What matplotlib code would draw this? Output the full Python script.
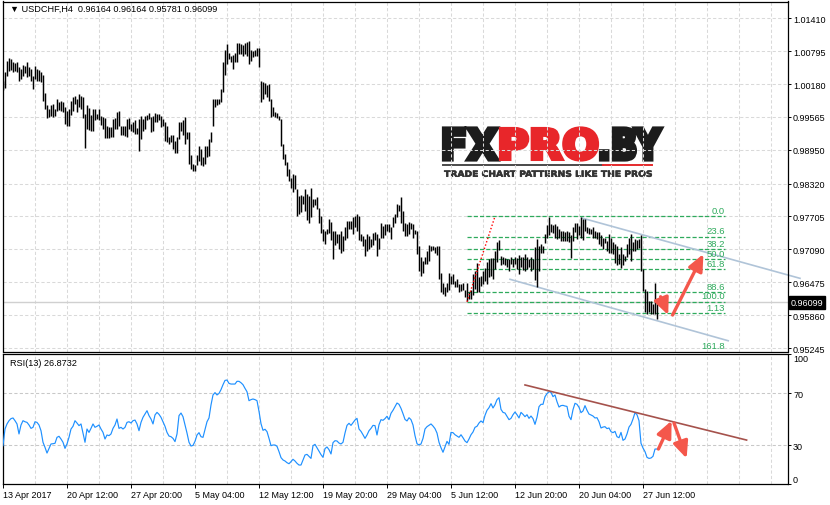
""" USDCHF H4 chart with RSI(13) """
import numpy as np
import matplotlib.pyplot as plt
from matplotlib.textpath import TextPath
from matplotlib.patches import PathPatch
from matplotlib.font_manager import FontProperties
from matplotlib.colors import to_rgb
from matplotlib.transforms import Affine2D, blended_transform_factory

plt.rcParams['lines.scale_dashes'] = False
plt.rcParams['font.family'] = ['Liberation Sans', 'DejaVu Sans']

# H4 bars, 13 Apr 2017 ... 28 Jun 2017 (high / low)
bar_high = [
    1.0024, 1.0040, 1.0062, 1.0066, 1.0064, 1.0059, 1.0057, 1.0059, 1.0049, 1.0047,
    1.0054, 1.0051, 1.0059, 1.0049, 1.0047, 1.0034, 1.0051, 1.0046, 1.0045, 1.0041,
    1.0035, 1.0001, 0.9978, 0.9971, 0.9978, 0.9981, 0.9971, 0.9991, 0.9985, 0.9987,
    0.9985, 0.9975, 0.9968, 0.9971, 0.9987, 0.9993, 0.9995, 0.9991, 0.9999, 0.9996,
    0.9993, 0.9962, 0.9979, 0.9973, 0.9960, 0.9971, 0.9971, 0.9962, 0.9971, 0.9958,
    0.9956, 0.9954, 0.9939, 0.9937, 0.9937, 0.9953, 0.9954, 0.9965, 0.9968, 0.9940,
    0.9940, 0.9940, 0.9953, 0.9954, 0.9943, 0.9947, 0.9950, 0.9935, 0.9953, 0.9958,
    0.9953, 0.9959, 0.9960, 0.9964, 0.9956, 0.9958, 0.9964, 0.9962, 0.9962, 0.9959,
    0.9953, 0.9947, 0.9940, 0.9919, 0.9923, 0.9922, 0.9912, 0.9919, 0.9947, 0.9948,
    0.9950, 0.9956, 0.9928, 0.9928, 0.9885, 0.9869, 0.9867, 0.9885, 0.9903, 0.9897,
    0.9881, 0.9903, 0.9902, 0.9915, 0.9929, 0.9990, 0.9990, 0.9990, 0.9990, 1.0008,
    1.0059, 1.0082, 1.0093, 1.0076, 1.0070, 1.0072, 1.0076, 1.0095, 1.0094, 1.0093,
    1.0091, 1.0095, 1.0097, 1.0099, 1.0082, 1.0079, 1.0082, 1.0085, 1.0085, 1.0024,
    1.0021, 1.0020, 1.0016, 1.0018, 0.9991, 0.9975, 0.9966, 0.9964, 0.9959, 0.9953,
    0.9906, 0.9887, 0.9873, 0.9859, 0.9842, 0.9850, 0.9848, 0.9822, 0.9809, 0.9811,
    0.9809, 0.9822, 0.9812, 0.9809, 0.9823, 0.9803, 0.9803, 0.9806, 0.9786, 0.9772,
    0.9747, 0.9744, 0.9747, 0.9765, 0.9761, 0.9744, 0.9744, 0.9738, 0.9738, 0.9744,
    0.9734, 0.9750, 0.9762, 0.9762, 0.9762, 0.9769, 0.9772, 0.9775, 0.9772, 0.9738,
    0.9734, 0.9728, 0.9738, 0.9734, 0.9728, 0.9739, 0.9741, 0.9738, 0.9731, 0.9759,
    0.9753, 0.9757, 0.9757, 0.9756, 0.9750, 0.9769, 0.9775, 0.9794, 0.9791, 0.9806,
    0.9781, 0.9759, 0.9756, 0.9761, 0.9759, 0.9756, 0.9745, 0.9744, 0.9716, 0.9694,
    0.9688, 0.9694, 0.9706, 0.9718, 0.9716, 0.9716, 0.9713, 0.9716, 0.9716, 0.9664,
    0.9647, 0.9638, 0.9647, 0.9664, 0.9660, 0.9663, 0.9650, 0.9653, 0.9644, 0.9645,
    0.9647, 0.9633, 0.9647, 0.9629, 0.9633, 0.9663, 0.9669, 0.9683, 0.9657, 0.9660,
    0.9668, 0.9675, 0.9686, 0.9691, 0.9693, 0.9693, 0.9706, 0.9722, 0.9726, 0.9697,
    0.9694, 0.9693, 0.9691, 0.9691, 0.9694, 0.9691, 0.9694, 0.9693, 0.9699, 0.9694,
    0.9694, 0.9700, 0.9694, 0.9691, 0.9694, 0.9691, 0.9713, 0.9728, 0.9716, 0.9719,
    0.9716, 0.9738, 0.9755, 0.9770, 0.9756, 0.9755, 0.9756, 0.9753, 0.9747, 0.9744,
    0.9743, 0.9741, 0.9744, 0.9741, 0.9735, 0.9750, 0.9759, 0.9759, 0.9753, 0.9769,
    0.9766, 0.9766, 0.9750, 0.9749, 0.9747, 0.9750, 0.9744, 0.9741, 0.9741, 0.9735,
    0.9731, 0.9731, 0.9725, 0.9738, 0.9731, 0.9722, 0.9719, 0.9716, 0.9700, 0.9713,
    0.9700, 0.9697, 0.9719, 0.9731, 0.9738, 0.9722, 0.9728, 0.9726, 0.9728, 0.9735,
    0.9672, 0.9635, 0.9631, 0.9613, 0.9613, 0.9607, 0.9647, 0.96164]
bar_low = [
    1.0006, 1.0010, 1.0034, 1.0043, 1.0045, 1.0041, 1.0043, 1.0040, 1.0024, 1.0028,
    1.0034, 1.0039, 1.0031, 1.0034, 1.0024, 1.0008, 1.0028, 1.0023, 1.0024, 1.0021,
    0.9987, 0.9971, 0.9954, 0.9956, 0.9958, 0.9956, 0.9959, 0.9968, 0.9970, 0.9968,
    0.9965, 0.9943, 0.9939, 0.9940, 0.9960, 0.9968, 0.9981, 0.9965, 0.9975, 0.9971,
    0.9954, 0.9898, 0.9934, 0.9932, 0.9931, 0.9931, 0.9951, 0.9953, 0.9950, 0.9942,
    0.9934, 0.9917, 0.9917, 0.9917, 0.9919, 0.9919, 0.9934, 0.9934, 0.9940, 0.9922,
    0.9922, 0.9920, 0.9919, 0.9934, 0.9931, 0.9928, 0.9925, 0.9925, 0.9892, 0.9915,
    0.9931, 0.9934, 0.9951, 0.9953, 0.9928, 0.9931, 0.9948, 0.9948, 0.9950, 0.9937,
    0.9940, 0.9912, 0.9910, 0.9906, 0.9909, 0.9897, 0.9889, 0.9890, 0.9915, 0.9931,
    0.9922, 0.9906, 0.9915, 0.9869, 0.9859, 0.9856, 0.9856, 0.9866, 0.9875, 0.9866,
    0.9864, 0.9869, 0.9881, 0.9884, 0.9909, 0.9939, 0.9976, 0.9978, 0.9981, 0.9984,
    1.0004, 1.0035, 1.0056, 1.0065, 1.0059, 1.0047, 1.0059, 1.0059, 1.0074, 1.0074,
    1.0071, 1.0074, 1.0071, 1.0056, 1.0062, 1.0068, 1.0070, 1.0071, 1.0049, 0.9985,
    0.9991, 0.9999, 0.9993, 0.9987, 0.9956, 0.9958, 0.9956, 0.9954, 0.9950, 0.9903,
    0.9878, 0.9866, 0.9847, 0.9836, 0.9823, 0.9816, 0.9821, 0.9772, 0.9775, 0.9778,
    0.9794, 0.9781, 0.9763, 0.9758, 0.9769, 0.9788, 0.9791, 0.9785, 0.9758, 0.9740,
    0.9725, 0.9719, 0.9738, 0.9740, 0.9727, 0.9691, 0.9718, 0.9720, 0.9710, 0.9703,
    0.9706, 0.9726, 0.9731, 0.9747, 0.9747, 0.9738, 0.9750, 0.9744, 0.9726, 0.9725,
    0.9716, 0.9697, 0.9706, 0.9710, 0.9713, 0.9718, 0.9726, 0.9697, 0.9710, 0.9731,
    0.9731, 0.9736, 0.9744, 0.9741, 0.9728, 0.9750, 0.9759, 0.9769, 0.9780, 0.9759,
    0.9744, 0.9734, 0.9734, 0.9738, 0.9747, 0.9731, 0.9738, 0.9700, 0.9668, 0.9660,
    0.9664, 0.9681, 0.9681, 0.9688, 0.9706, 0.9708, 0.9703, 0.9699, 0.9653, 0.9630,
    0.9625, 0.9622, 0.9629, 0.9633, 0.9644, 0.9644, 0.9638, 0.9639, 0.9629, 0.9632,
    0.9633, 0.9619, 0.9612, 0.9616, 0.9616, 0.9624, 0.9635, 0.9629, 0.9630, 0.9641,
    0.9644, 0.9650, 0.9645, 0.9657, 0.9660, 0.9653, 0.9672, 0.9685, 0.9707, 0.9679,
    0.9682, 0.9679, 0.9676, 0.9669, 0.9681, 0.9676, 0.9682, 0.9672, 0.9662, 0.9676,
    0.9670, 0.9669, 0.9672, 0.9676, 0.9669, 0.9672, 0.9652, 0.9639, 0.9669, 0.9703,
    0.9703, 0.9720, 0.9731, 0.9735, 0.9741, 0.9739, 0.9731, 0.9728, 0.9731, 0.9725,
    0.9725, 0.9724, 0.9725, 0.9722, 0.9693, 0.9725, 0.9741, 0.9728, 0.9735, 0.9731,
    0.9726, 0.9744, 0.9739, 0.9738, 0.9738, 0.9731, 0.9731, 0.9728, 0.9719, 0.9716,
    0.9710, 0.9720, 0.9706, 0.9703, 0.9702, 0.9700, 0.9683, 0.9680, 0.9682, 0.9674,
    0.9679, 0.9688, 0.9694, 0.9700, 0.9688, 0.9705, 0.9706, 0.9710, 0.9712, 0.9669,
    0.9631, 0.9591, 0.9589, 0.9591, 0.9588, 0.9588, 0.9588, 0.95781]

rsi_values = [
    29.5, 42.3, 46.2, 48.7, 50.3, 50.8, 48.7, 46.2, 38.5, 45.4,
    48.7, 47.9, 47.4, 45.4, 42.8, 43.6, 47.9, 47.4, 45.4, 41.0,
    32.1, 28.2, 23.8, 27.4, 30.8, 31.0, 31.3, 35.9, 36.7, 34.6,
    32.1, 27.4, 30.8, 35.9, 42.3, 44.4, 48.7, 46.9, 44.9, 46.2,
    39.2, 32.1, 42.3, 39.7, 42.8, 46.2, 43.6, 44.4, 45.4, 42.3,
    39.7, 34.6, 37.7, 37.2, 38.5, 42.8, 45.4, 50.0, 42.8, 43.6,
    42.3, 43.6, 47.4, 47.9, 46.9, 48.7, 49.2, 46.2, 41.0, 47.4,
    51.3, 53.8, 56.4, 52.6, 50.0, 46.2, 53.1, 55.1, 53.6, 51.3,
    47.9, 44.4, 39.7, 36.9, 36.4, 35.1, 32.6, 38.5, 52.6, 54.6,
    51.8, 45.4, 39.2, 32.1, 29.2, 29.7, 32.8, 37.7, 39.5, 36.4,
    35.9, 41.8, 47.9, 50.8, 60.8, 68.5, 70.3, 68.5, 69.7, 72.6,
    76.4, 79.7, 80.0, 77.4, 76.9, 76.9, 76.9, 79.0, 79.0, 77.9,
    76.4, 73.6, 71.0, 64.1, 64.9, 65.4, 64.9, 64.1, 55.9, 46.4,
    41.3, 42.1, 40.3, 35.1, 29.5, 30.0, 30.0, 29.0, 24.9, 20.3,
    18.5, 17.7, 16.4, 15.6, 17.2, 19.0, 17.7, 15.9, 14.6, 14.6,
    18.5, 22.3, 22.8, 21.3, 19.7, 29.5, 30.5, 27.9, 25.4, 22.6,
    20.5, 27.2, 28.5, 26.4, 23.1, 31.8, 33.3, 33.1, 31.5, 30.8,
    32.1, 39.2, 45.1, 46.7, 45.1, 47.2, 49.2, 50.5, 42.3, 40.5,
    37.9, 35.1, 37.7, 41.0, 42.8, 45.1, 44.9, 37.7, 45.6, 49.5,
    49.0, 50.3, 52.1, 49.5, 54.4, 56.7, 59.5, 62.3, 61.3, 58.2,
    54.1, 49.7, 48.5, 51.0, 49.5, 45.4, 37.2, 31.0, 30.0, 30.8,
    35.1, 42.3, 44.1, 45.1, 46.2, 44.6, 42.6, 39.2, 32.1, 27.9,
    24.4, 28.7, 32.8, 30.5, 39.7, 39.5, 37.9, 36.9, 35.9, 37.9,
    35.6, 33.1, 31.8, 34.6, 37.9, 40.0, 43.6, 44.4, 46.9, 48.5,
    47.2, 52.8, 56.7, 58.7, 61.8, 58.5, 61.0, 64.9, 66.4, 57.4,
    55.1, 54.6, 52.1, 49.5, 50.5, 53.3, 55.4, 53.3, 50.8, 55.1,
    53.6, 51.8, 53.3, 50.5, 52.3, 50.3, 45.9, 51.3, 59.5, 61.3,
    61.3, 67.2, 69.5, 71.0, 70.5, 67.2, 68.5, 63.3, 59.2, 60.3,
    60.5, 60.0, 59.7, 52.1, 49.5, 57.2, 62.1, 61.3, 59.0, 54.9,
    56.2, 60.3, 56.7, 53.8, 53.1, 52.3, 50.8, 51.0, 47.9, 43.1,
    43.8, 44.1, 42.6, 43.1, 40.3, 39.5, 40.5, 36.4, 35.6, 39.7,
    33.6, 34.6, 38.5, 43.8, 45.9, 50.0, 54.9, 53.3, 48.7, 31.3,
    27.7, 24.9, 20.5, 19.7, 20.0, 21.3, 26.9, 26.9]

date_labels = ['13 Apr 2017', '20 Apr 12:00', '27 Apr 20:00', '5 May 04:00',
               '12 May 12:00', '19 May 20:00', '29 May 04:00', '5 Jun 12:00',
               '12 Jun 20:00', '20 Jun 04:00', '27 Jun 12:00']
price_ticks = [1.01410, 1.00795, 1.00180, 0.99565, 0.98950, 0.98320,
               0.97705, 0.97090, 0.96475, 0.95860, 0.95245]
rsi_ticks = [0, 30, 70, 100]

last_ohlc = [0.96164, 0.96164, 0.95781, 0.96099]
rsi_last = 26.8732

# Fibonacci retracement: from swing low to swing high
fib_bars = [232, 361]
fib_low, fib_high = 0.96109, 0.97707
fib_pct = [0.0, 23.6, 38.2, 50.0, 61.8, 88.6, 100.0, 113.0, 161.8]
fib_text = ['0.0', '23.6', '38.2', '50.0', '61.8', '88.6', '100.0', '1.13', '161.8']
fib_trend_bars = [232, 246]

# trend channel and RSI trend line (bar index, value)
chan_up_x, chan_up_y = [289.4, 398.5], [0.97676, 0.96548]
chan_lo_x, chan_lo_y = [253.5, 362.6], [0.96530, 0.95381]
rsi_tl_x, rsi_tl_y = [261, 371.8], [76.2, 33.8]

# forecast arrows (start bar, start value, end bar, end value)
price_arrows = [(328.8, 0.96204, 332.6, 0.95862), (334.8, 0.95862, 350.2, 0.97003)]
rsi_arrows = [(327.7, 26.9, 334.3, 48.7), (335.5, 46.9, 341.8, 19.7)]

n = len(bar_high)
idx = np.arange(n)

W, H = 830, 506
fig = plt.figure(figsize=(W / 100, H / 100), dpi=100)
ax1 = fig.add_axes([2.5 / W, 1 - 352.5 / H, 785 / W, 350 / H])
ax2 = fig.add_axes([2.5 / W, 1 - 485 / H, 785 / W, 130.5 / H])

grid_kw = dict(color='#d9d9d9', lw=0.75, dashes=(2.3, 1.6))
red = '#f4574b'
xmax = 392.25
major_x = np.arange(0, len(idx), 32)
minor_x = [v for v in np.arange(0, xmax, 16) if v not in major_x]

for ax in (ax1, ax2):
    ax.set_xlim(-0.25, xmax)
    ax.set_xticks(major_x)
    ax.set_xticks(minor_x, minor=True)
    ax.grid(True, which='both', axis='x', **grid_kw)
    ax.yaxis.tick_right()
    ax.tick_params(axis='y', which='both', length=2, width=0.7, pad=2, labelsize=6.5)
    ax.tick_params(axis='x', which='minor', length=0)
    for s in ax.spines.values():
        s.set_linewidth(0.9)
        s.set_color('black')
    ax.set_axisbelow(True)

# ---- price panel
ylo, yhi = 0.95180, 1.01724
ax1.set_ylim(ylo, yhi)
ax1.set_yticks(price_ticks)
ax1.set_yticklabels(['%.5f' % v for v in price_ticks])
ax1.grid(True, axis='y', **grid_kw)
ax1.tick_params(axis='x', which='both', length=0, labelbottom=False)

ax1.axhline(last_ohlc[3], color='#d0d0d0', lw=1.0, zorder=1)
ax1.vlines(idx, bar_low, bar_high, color='black', lw=1.05, zorder=3)

rng = fib_high - fib_low
fib_vals = [fib_high - p / 100 * rng for p in fib_pct]
for v, t in zip(fib_vals, fib_text):
    ax1.plot(fib_bars, [v, v], color='#2eaa5c', lw=0.9, dashes=(3, 1.5), zorder=2)
    ax1.annotate(t, xy=(fib_bars[1], max(v, ylo)), xytext=(0, 1), textcoords='offset points',
                 ha='right', va='bottom', fontsize=6.8, color='#2eaa5c',
                 annotation_clip=False)
ax1.plot(fib_trend_bars, [fib_low, fib_high], color='red', lw=1.0, dashes=(1, 1.5), zorder=4)

ax1.plot(chan_up_x, chan_up_y, color='#b0c4d8', lw=1.2, clip_on=False, zorder=2)
ax1.plot(chan_lo_x, chan_lo_y, color='#b0c4d8', lw=1.2, clip_on=False, zorder=2)

arrow_kw = dict(arrowstyle='-|>,head_length=1.0,head_width=0.45', color=red,
                lw=2.4, mutation_scale=10, shrinkA=0, shrinkB=0)
for x0, y0, x1, y1 in price_arrows:
    ax1.annotate('', xy=(x1, y1), xytext=(x0, y0), arrowprops=arrow_kw, zorder=5)

ax1.annotate('%.5f' % last_ohlc[3], xy=(1, last_ohlc[3]),
             xycoords=blended_transform_factory(ax1.transAxes, ax1.transData),
             xytext=(2.2, 0), textcoords='offset points', va='center', ha='left',
             fontsize=6.5, color='white', annotation_clip=False,
             bbox=dict(boxstyle='square,pad=0.22', fc='black', ec='black'))

ax1.text(7 / 785, 1 - 6.5 / 350, '\u25bc USDCHF,H4  ' + ' '.join('%.5f' % v for v in last_ohlc),
         transform=ax1.transAxes, ha='left', va='center', fontsize=6.6,
         family=['Liberation Sans', 'DejaVu Sans'])

# ---- RSI panel
ax2.set_ylim(0, 100.4)
ax2.set_yticks(rsi_ticks)
ax2.set_yticklabels([str(v) for v in rsi_ticks])
lbls = ax2.get_yticklabels()
lbls[0].set_va('bottom')
lbls[-1].set_va('top')
for v in (30, 70):
    ax2.axhline(v, color='#c8c8c8', lw=0.75, dashes=(2.3, 1.6), zorder=1)
ax2.set_xticklabels(date_labels, ha='left', fontsize=6.5)
ax2.tick_params(axis='x', which='major', length=3, width=0.7, pad=1.5)

ax2.plot(idx, rsi_values, color='#1e90ff', lw=0.85, zorder=3)
ax2.plot(rsi_tl_x, rsi_tl_y, color='#a5524c', lw=1.2, zorder=4)
for x0, y0, x1, y1 in rsi_arrows:
    ax2.annotate('', xy=(x1, y1), xytext=(x0, y0), arrowprops=arrow_kw, zorder=5)
ax2.text(7 / 785, 1 - 9.5 / 130.5, 'RSI(13) %.4f' % rsi_last, transform=ax2.transAxes,
         ha='left', va='center', fontsize=6.6)

# ---- watermark logo (drawn in pixel coordinates behind the panels)
ov = fig.add_axes([0, 0, 1, 1], zorder=-1)
ov.axis('off')
ax1.set_zorder(1)
ax2.set_zorder(1)
ax1.patch.set_alpha(0)
ax2.patch.set_alpha(0)


def logo_text(s, box, stops, edge, stroke, family='DejaVu Sans', weight='bold'):
    x0, y0, x1, y1 = box
    tp = TextPath((0, 0), s, size=10, prop=FontProperties(family=family, weight=weight))
    ext = tp.get_extents()
    # shrink a little so the stroke keeps the word inside its box
    m = stroke * 0.7 / 2
    tr = (Affine2D().translate(-ext.x0, -ext.y0)
          .scale((x1 - x0 - 2 * m) / ext.width, -(y1 - y0 - 2 * m) / ext.height)
          .translate(x0 + m, y1 - m))
    path = tr.transform_path(tp)
    if stroke > 0:
        ov.add_patch(PathPatch(path, fc=edge, ec=edge, lw=stroke, joinstyle='miter'))
    patch = PathPatch(path, fc='none', ec='none')
    ov.add_patch(patch)
    t = np.linspace(0, 1, 80)
    cols = np.array([to_rgb(c) for _, c in stops])
    pos = [p for p, _ in stops]
    grad = np.stack([np.interp(t, pos, cols[:, k]) for k in range(3)], axis=-1)[:, None, :]
    im = ov.imshow(grad, extent=(x0, x1, y1, y0), origin='upper', aspect='auto',
                   interpolation='bilinear')
    im.set_clip_path(patch)


dark = [(0, '#151515'), (0.45, '#1c1c1c'), (0.62, '#6a6a6a'), (0.82, '#3a3a3a'), (1, '#1c1c1c')]
redg = [(0, '#e8191c'), (0.45, '#e9262a'), (0.62, '#f39a9a'), (0.82, '#ee5a5a'), (1, '#e43535')]
logo_text('FX', (443, 128.5, 498, 161.5), dark, '#1c1c1c', 3.2)
logo_text('PRO', (500, 128.5, 598, 161.5), redg, '#e8262a', 3.2)
logo_text('.BY', (600, 128.5, 662, 161.5), dark, '#1c1c1c', 3.2)
logo_text('TRADE CHART PATTERNS LIKE THE PROS', (444, 171.3, 652, 178),
          [(0, '#333333'), (1, '#333333')], '#333333', 0.4)
ov.plot([443, 603], [165.5, 165.5], color='#4a4a4a', lw=1.4)
ov.plot([603, 652], [165.5, 165.5], color='#e52a2d', lw=1.4)
ov.set_xlim(0, W)
ov.set_ylim(H, 0)

fig.savefig('out.png', dpi=100)
